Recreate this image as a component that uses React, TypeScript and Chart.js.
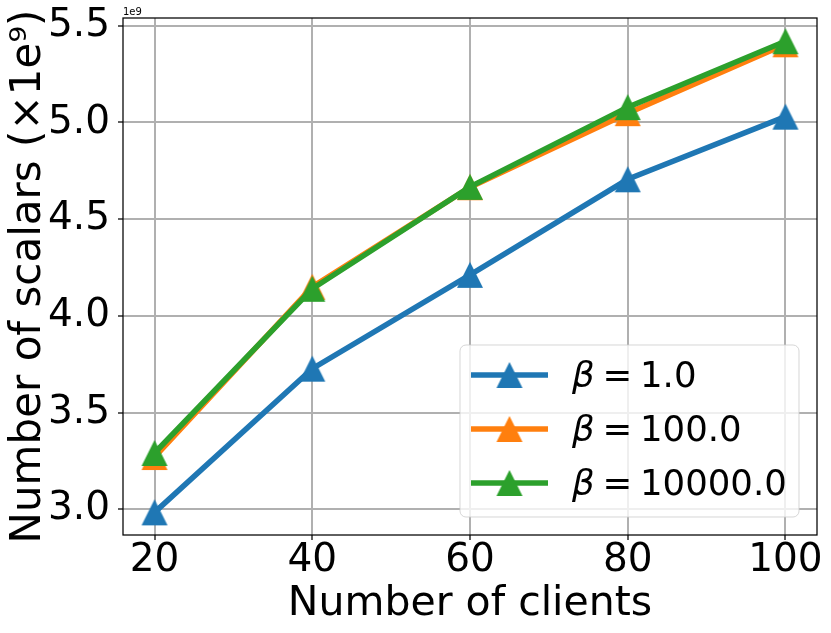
import React, { useEffect, useRef } from "react";
import { Chart, registerables } from "chart.js";

Chart.register(...registerables);

// ---- data (values in units of 1e9 scalars) ----
const clients = [20, 40, 60, 80, 100];
const beta1 = [2.984, 3.727, 4.212, 4.706, 5.03];
const beta100 = [3.27, 4.15, 4.665, 5.048, 5.404];
const beta10000 = [3.291, 4.14, 4.667, 5.079, 5.42];
const seriesLabels = ["1.0", "100.0", "10000.0"];
const seriesColors = ["#1f77b4", "#ff7f0e", "#2ca02c"];
const xTicks = [20, 40, 60, 80, 100];
const yTicks = [3.0, 3.5, 4.0, 4.5, 5.0, 5.5];
const offsetText = "1e9";
const xTitle = "Number of clients";
const yTitle = "Number of scalars (×1e⁹)";

const FONT = "'DejaVu Sans', sans-serif";
const TICK_FS = 39;
const LEGEND_FS = 35.5;
const MARKER = 26;

function makeTriangle(color: string): HTMLCanvasElement {
  const c = document.createElement("canvas");
  const s = MARKER + 2;
  c.width = s;
  c.height = s;
  const g = c.getContext("2d")!;
  g.fillStyle = color;
  g.beginPath();
  g.moveTo(s / 2, 1);
  g.lineTo(1, s - 1);
  g.lineTo(s - 1, s - 1);
  g.closePath();
  g.fill();
  return c;
}

const decorPlugin = {
  id: "decor",
  afterDatasetsDraw(chart: any) {
    const { ctx, chartArea } = chart;
    ctx.save();
    ctx.strokeStyle = "#000";
    ctx.lineWidth = 1.25;
    ctx.strokeRect(chartArea.left, chartArea.top, chartArea.right - chartArea.left, chartArea.bottom - chartArea.top);
    ctx.restore();
  },
  afterDraw(chart: any) {
    const { ctx, chartArea } = chart;
    // offset text
    ctx.save();
    ctx.fillStyle = "#000";
    ctx.font = `10px ${FONT}`;
    ctx.textAlign = "left";
    ctx.textBaseline = "alphabetic";
    ctx.fillText(offsetText, chartArea.left, chartArea.top - 3);
    ctx.restore();

    // legend
    const fs = LEGEND_FS;
    const w = 339;
    const h = 172;
    const x0 = chartArea.right - 18 - w;
    const y0 = chartArea.bottom - 18 - h;
    ctx.save();
    ctx.beginPath();
    (ctx as any).roundRect(x0, y0, w, h, 6);
    ctx.fillStyle = "rgba(255,255,255,0.8)";
    ctx.fill();
    ctx.strokeStyle = "rgba(204,204,204,0.8)";
    ctx.lineWidth = 1;
    ctx.stroke();
    const datasets = chart.data.datasets;
    for (let i = 0; i < seriesLabels.length; i++) {
      const rowY = y0 + 30 + i * 54;
      const color = seriesColors[i];
      ctx.strokeStyle = color;
      ctx.lineWidth = 5.5;
      ctx.lineCap = "butt";
      ctx.beginPath();
      ctx.moveTo(x0 + 11, rowY);
      ctx.lineTo(x0 + 88, rowY);
      ctx.stroke();
      const img = datasets[i].pointStyle as HTMLCanvasElement;
      ctx.drawImage(img, x0 + 49.5 - img.width / 2, rowY - img.height / 2);
      // text
      ctx.fillStyle = "#000";
      ctx.textBaseline = "alphabetic";
      ctx.textAlign = "left";
      const base = rowY + 0.33 * fs;
      let tx = x0 + 112;
      ctx.font = `italic ${fs}px ${FONT}`;
      ctx.fillText("β", tx, base);
      tx += ctx.measureText("β").width + 0.22 * fs;
      ctx.font = `${fs}px ${FONT}`;
      ctx.fillText("=", tx, base);
      tx += ctx.measureText("=").width + 0.22 * fs;
      ctx.fillText(seriesLabels[i], tx, base);
    }
    ctx.restore();
  },
};

export default function App() {
  const ref = useRef<HTMLCanvasElement | null>(null);
  useEffect(() => {
    if (!ref.current) return;
    const series = [beta1, beta100, beta10000];
    const datasets = series.map((vals, i) => ({
      label: `β = ${seriesLabels[i]}`,
      data: clients.map((c, j) => ({ x: c, y: vals[j] })),
      borderColor: seriesColors[i],
      backgroundColor: seriesColors[i],
      borderWidth: 5.5,
      pointStyle: makeTriangle(seriesColors[i]),
      pointRadius: MARKER / 2,
      pointHoverRadius: MARKER / 2,
      pointBorderWidth: 0,
      pointHoverBorderWidth: 0,
      tension: 0,
      order: series.length - 1 - i,
    }));
    const chart = new Chart(ref.current, {
      type: "line",
      data: { datasets },
      plugins: [decorPlugin],
      options: {
        animation: false,
        responsive: false,
        devicePixelRatio: 1,
        events: [],
        layout: { padding: { left: 0, right: 14, top: 18, bottom: 0 } },
        plugins: { legend: { display: false }, tooltip: { enabled: false } },
        scales: {
          x: {
            type: "linear",
            min: 16,
            max: 104,
            afterBuildTicks: (s: any) => {
              s.ticks = xTicks.map((v) => ({ value: v }));
            },
            afterFit: (s: any) => {
              s.height = 98;
              s.paddingLeft = 0;
              s.paddingRight = 0;
            },
            border: { display: false },
            grid: {
              color: "#b0b0b0",
              lineWidth: 2,
              tickLength: 5,
              tickColor: "#000",
              tickWidth: 1.25,
            },
            ticks: {
              color: "#000",
              font: { family: FONT, size: TICK_FS, lineHeight: 1 },
              padding: 1.5,
              maxRotation: 0,
              autoSkip: false,
              callback: (v: any) => String(v),
            },
            title: {
              display: true,
              text: xTitle,
              color: "#000",
              font: { family: FONT, size: 41, lineHeight: 1.2 },
              padding: { top: 0, bottom: 4 },
            },
          },
          y: {
            type: "linear",
            min: 2.867,
            max: 5.54,
            afterBuildTicks: (s: any) => {
              s.ticks = yTicks.map((v) => ({ value: v }));
            },
            afterFit: (s: any) => {
              s.width = 123;
              s.paddingTop = 0;
              s.paddingBottom = 0;
            },
            border: { display: false },
            grid: {
              color: "#b0b0b0",
              lineWidth: 2,
              tickLength: 5,
              tickColor: "#000",
              tickWidth: 1.25,
            },
            ticks: {
              color: "#000",
              font: { family: FONT, size: TICK_FS, lineHeight: 1 },
              padding: 8,
              autoSkip: false,
              callback: (v: any) => Number(v).toFixed(1),
            },
            title: {
              display: true,
              text: yTitle,
              color: "#000",
              font: { family: FONT, size: 42, lineHeight: 1.2 },
              padding: { top: 4, bottom: 0 },
            },
          },
        },
      },
    });
    return () => chart.destroy();
  }, []);
  return (
    <div style={{ position: "absolute", left: 0, top: 0, width: 831, height: 633, background: "#fff" }}>
      <canvas ref={ref} width={831} height={633} />
    </div>
  );
}
